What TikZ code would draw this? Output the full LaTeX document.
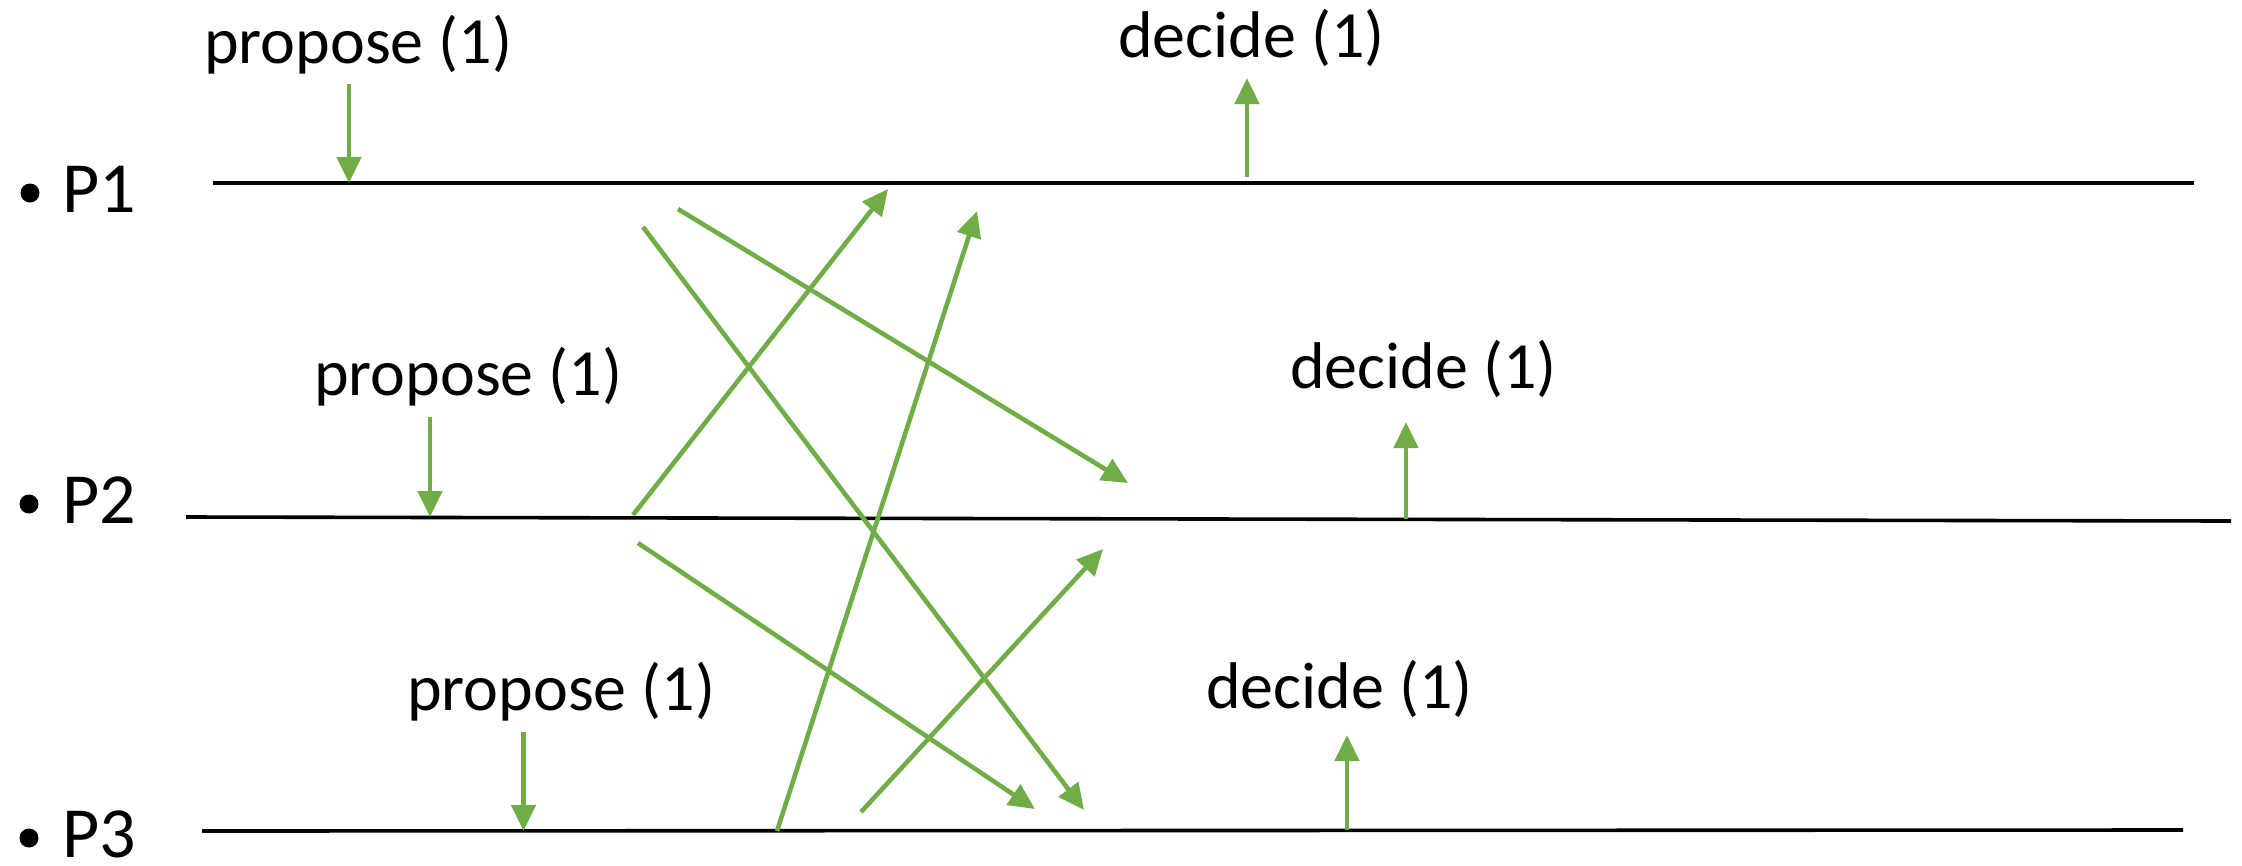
\documentclass[tikz,border=0pt]{standalone}
\usepackage{fontspec}
\setmainfont{Carlito}
\usetikzlibrary{arrows.meta}
\definecolor{ogreen}{RGB}{112,173,71}
\begin{document}
\begin{tikzpicture}[x=1pt,y=-1pt,
  lifeline/.style={line width=3.6pt},
  msg/.style={ogreen, line width=4.6pt, -{Triangle[length=26pt,width=24pt]}},
  lbl/.style={anchor=base west, inner sep=0pt, font=\fontsize{66}{70}\selectfont},
  proc/.style={anchor=base west, inner sep=0pt, font=\fontsize{72}{80}\selectfont},
  dot/.style={circle, fill=black, inner sep=0pt, minimum size=19pt}]
\useasboundingbox (0,0) rectangle (2242,865);

% process labels
\node[dot] (b1) at (30,193) {};
\node[proc] (p1) at (62,212) {P1};
\node[dot] (b2) at (29,504) {};
\node[proc] (p2) at (62,523) {P2};
\node[dot] (b3) at (29,838) {};
\node[proc] (p3) at (62,857) {P3};

% lifelines
\coordinate (l1s) at (213,183); \coordinate (l1e) at (2194,183);
\coordinate (l2s) at (186,517); \coordinate (l2e) at (2231,521);
\coordinate (l3s) at (202,831); \coordinate (l3e) at (2183,830);
\draw[lifeline] (l1s) -- (l1e);
\draw[lifeline] (l2s) -- (l2e);
\draw[lifeline] (l3s) -- (l3e);

% propose labels and arrows
\node[lbl] (pp1) at (204,63) {propose (1)};
\node[lbl] (pp2) at (314,395) {propose (1)};
\node[lbl] (pp3) at (407,710) {propose (1)};
\coordinate (pa1s) at (349,84);  \coordinate (pa1e) at (349,183);
\coordinate (pa2s) at (430,417); \coordinate (pa2e) at (430,517);
\coordinate (pa3s) at (523.5,732); \coordinate (pa3e) at (523.5,831);
\draw[msg] (pa1s) -- (pa1e);
\draw[msg] (pa2s) -- (pa2e);
\draw[msg] (pa3s) -- (pa3e);

% decide labels and arrows
\node[lbl] (dd1) at (1118,57) {decide (1)};
\node[lbl] (dd2) at (1290,388) {decide (1)};
\node[lbl] (dd3) at (1206,708) {decide (1)};
\coordinate (da1s) at (1247,177); \coordinate (da1e) at (1247,78);
\coordinate (da2s) at (1406,519); \coordinate (da2e) at (1406,422);
\coordinate (da3s) at (1347,830); \coordinate (da3e) at (1347,735);
\draw[msg] (da1s) -- (da1e);
\draw[msg] (da2s) -- (da2e);
\draw[msg] (da3s) -- (da3e);

% messages
\coordinate (ma1) at (633,515);  \coordinate (ma2) at (888,189);
\coordinate (mb1) at (643,227);  \coordinate (mb2) at (1084,810);
\coordinate (mc1) at (678,209);  \coordinate (mc2) at (1128,483);
\coordinate (md1) at (777,831);  \coordinate (md2) at (977,211);
\coordinate (me1) at (638,543);  \coordinate (me2) at (1035,809);
\coordinate (mf1) at (861,812);  \coordinate (mf2) at (1103,549);
\draw[msg] (ma1) -- (ma2);
\draw[msg] (mb1) -- (mb2);
\draw[msg] (mc1) -- (mc2);
\draw[msg] (md1) -- (md2);
\draw[msg] (me1) -- (me2);
\draw[msg] (mf1) -- (mf2);
\end{tikzpicture}
\end{document}
